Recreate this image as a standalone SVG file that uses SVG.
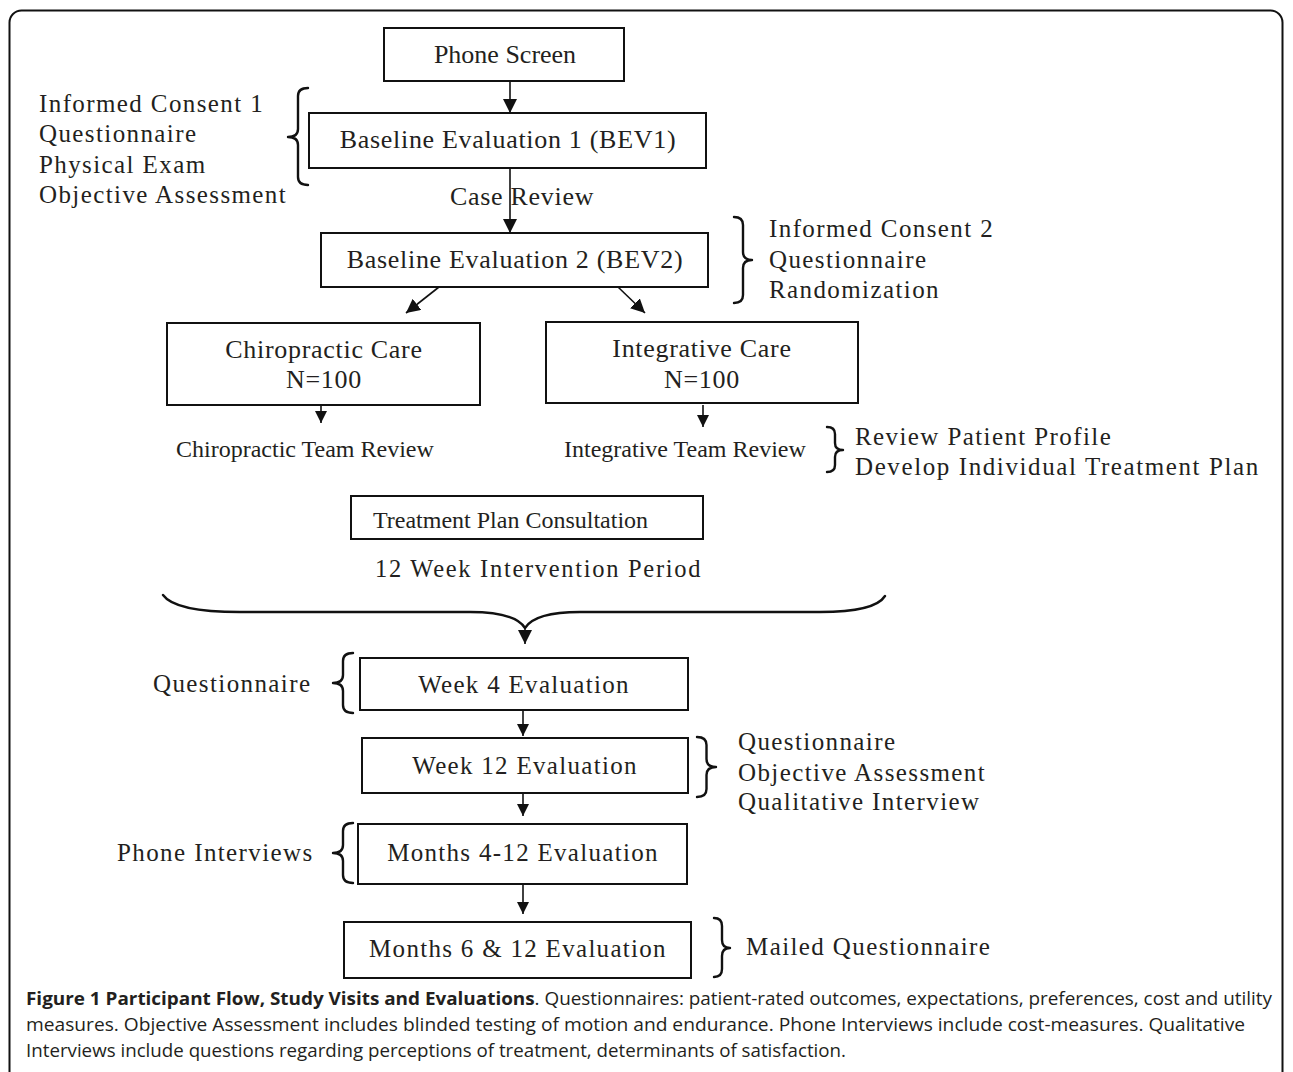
<svg xmlns="http://www.w3.org/2000/svg" width="1293" height="1072" viewBox="0 0 1293 1072">
<style>
  .box { fill: #fff; stroke: #111; stroke-width: 2; }
  .bt { font-family: "Liberation Serif", "Times New Roman", serif; font-size: 26px; fill: #231f20; text-anchor: middle; letter-spacing: 0.7px; }
  .lt { font-family: "Liberation Serif", "Times New Roman", serif; font-size: 25px; fill: #231f20; text-anchor: middle; letter-spacing: 1.3px; }
  .ann { font-family: "Liberation Serif", "Times New Roman", serif; font-size: 25px; fill: #231f20; letter-spacing: 1.4px; }
  .sm { font-family: "Liberation Serif", "Times New Roman", serif; font-size: 24px; fill: #231f20; }
  .conn { stroke: #111; stroke-width: 1.6; fill: none; }
  .brace { stroke: #111; stroke-width: 2.4; fill: none; stroke-linecap: round; stroke-linejoin: round; }
  .cap { font-family: "Open Sans", "Noto Sans", sans-serif; font-size: 17.5px; fill: #231f20; }
</style>
<defs>
  <marker id="ah" viewBox="0 0 14 14" refX="14" refY="7" markerWidth="14" markerHeight="14" markerUnits="userSpaceOnUse" orient="auto">
    <path d="M0,0 L14,7 L0,14 z" fill="#111"/>
  </marker>
  <marker id="ahs" viewBox="0 0 12 12" refX="12" refY="6" markerWidth="12" markerHeight="12" markerUnits="userSpaceOnUse" orient="auto">
    <path d="M0,0 L12,6 L0,12 z" fill="#111"/>
  </marker>
</defs>

<rect x="9.5" y="10.5" width="1273" height="1090" rx="12" fill="#fff" stroke="#111" stroke-width="2"/>

<g id="connectors">
  <line class="conn" x1="510" y1="81" x2="510" y2="113" marker-end="url(#ah)"/>
  <line class="conn" x1="510" y1="168" x2="510" y2="233" marker-end="url(#ah)"/>
  <line class="conn" x1="439" y1="287" x2="406" y2="313" marker-end="url(#ah)"/>
  <line class="conn" x1="618" y1="287" x2="645" y2="313" marker-end="url(#ah)"/>
  <line class="conn" x1="321" y1="405" x2="321" y2="423" marker-end="url(#ahs)"/>
  <line class="conn" x1="703" y1="405" x2="703" y2="427" marker-end="url(#ahs)"/>
  <path class="brace" d="M163 595 Q175 612 240 612 L470 612 Q515 612 525 628 Q535 612 580 612 L820 612 Q875 612 885 596"/>
  <line class="conn" x1="525" y1="626" x2="525" y2="644" marker-end="url(#ah)"/>
  <line class="conn" x1="523" y1="710" x2="523" y2="736" marker-end="url(#ahs)"/>
  <line class="conn" x1="523" y1="793" x2="523" y2="816" marker-end="url(#ahs)"/>
  <line class="conn" x1="523" y1="884" x2="523" y2="914" marker-end="url(#ahs)"/>
</g>

<g id="phone-screen">
  <rect class="box" x="384" y="28" width="240" height="53"/>
  <text class="bt" x="505" y="63" style="letter-spacing:0">Phone Screen</text>
</g>

<g id="bev1">
  <rect class="box" x="309" y="113" width="397" height="55"/>
  <text class="bt" x="508" y="148">Baseline Evaluation 1 (BEV1)</text>
</g>

<g id="bev1-notes">
  <path class="brace" d="M308 88 Q298 88 298 96 L298 129 Q298 137 288 137 Q298 137 298 145 L298 177 Q298 185 308 185"/>
  <text class="ann" x="39" y="112">Informed Consent 1</text>
  <text class="ann" x="39" y="142">Questionnaire</text>
  <text class="ann" x="39" y="173">Physical Exam</text>
  <text class="ann" x="39" y="203">Objective Assessment</text>
</g>

<g id="case-review">
  <text class="bt" x="450" y="205" style="text-anchor:start">Case Review</text>
</g>

<g id="bev2">
  <rect class="box" x="321" y="233" width="387" height="54"/>
  <text class="bt" x="515" y="268">Baseline Evaluation 2 (BEV2)</text>
</g>

<g id="bev2-notes">
  <path class="brace" d="M734 217 Q743 217 743 225 L743 252 Q743 260 752 260 Q743 260 743 268 L743 295 Q743 303 734 303"/>
  <text class="ann" x="769" y="237">Informed Consent 2</text>
  <text class="ann" x="769" y="268">Questionnaire</text>
  <text class="ann" x="769" y="298">Randomization</text>
</g>

<g id="chiropractic-care">
  <rect class="box" x="167" y="323" width="313" height="82"/>
  <text class="bt" x="324" y="358">Chiropractic Care</text>
  <text class="bt" x="324" y="388">N=100</text>
</g>

<g id="integrative-care">
  <rect class="box" x="546" y="322" width="312" height="81"/>
  <text class="bt" x="702" y="357">Integrative Care</text>
  <text class="bt" x="702" y="388">N=100</text>
</g>

<g id="chiropractic-team-review">
  <text class="sm" x="176" y="457">Chiropractic Team Review</text>
</g>

<g id="integrative-team-review">
  <text class="sm" x="564" y="457">Integrative Team Review</text>
</g>

<g id="team-review-notes">
  <path class="brace" d="M827 427 Q835 427 835 434 L835 443 Q835 450 843 450 Q835 450 835 457 L835 465 Q835 472 827 472"/>
  <text class="ann" x="855" y="445">Review Patient Profile</text>
  <text class="ann" x="855" y="475" style="letter-spacing:1.6px">Develop Individual Treatment Plan</text>
</g>

<g id="treatment-plan">
  <rect class="box" x="351" y="496" width="352" height="43"/>
  <text class="sm" x="373" y="528">Treatment Plan Consultation</text>
</g>

<g id="intervention-period">
  <text class="ann" x="375" y="577" style="font-size:24.5px;letter-spacing:1.7px">12 Week Intervention Period</text>
</g>

<g id="week4">
  <rect class="box" x="360" y="658" width="328" height="52"/>
  <text class="lt" x="524" y="693">Week 4 Evaluation</text>
</g>

<g id="week4-notes">
  <path class="brace" d="M353 653 Q343 653 343 661 L343 675 Q343 683 333 683 Q343 683 343 691 L343 705 Q343 713 353 713"/>
  <text class="ann" x="153" y="692">Questionnaire</text>
</g>

<g id="week12">
  <rect class="box" x="362" y="738" width="326" height="55"/>
  <text class="lt" x="525" y="774">Week 12 Evaluation</text>
</g>

<g id="week12-notes">
  <path class="brace" d="M697 737 Q706.5 737 706.5 745 L706.5 759 Q706.5 767 716 767 Q706.5 767 706.5 775 L706.5 789 Q706.5 797 697 797"/>
  <text class="ann" x="738" y="750">Questionnaire</text>
  <text class="ann" x="738" y="781">Objective Assessment</text>
  <text class="ann" x="738" y="810">Qualitative Interview</text>
</g>

<g id="months4-12">
  <rect class="box" x="358" y="824" width="329" height="60"/>
  <text class="lt" x="523" y="861">Months 4-12 Evaluation</text>
</g>

<g id="months4-12-notes">
  <path class="brace" d="M353 823 Q343 823 343 831 L343 845 Q343 853 333 853 Q343 853 343 861 L343 875 Q343 883 353 883"/>
  <text class="ann" x="117" y="861">Phone Interviews</text>
</g>

<g id="months6-12">
  <rect class="box" x="344" y="922" width="347" height="56"/>
  <text class="lt" x="518" y="957">Months 6 &amp; 12 Evaluation</text>
</g>

<g id="months6-12-notes">
  <path class="brace" d="M714 918 Q722 918 722 926 L722 940 Q722 948 730 948 Q722 948 722 956 L722 969 Q722 977 714 977"/>
  <text class="ann" x="746" y="955">Mailed Questionnaire</text>
</g>

<g id="caption">
  <text class="cap" x="26" y="1005" textLength="1246" lengthAdjust="spacingAndGlyphs"><tspan font-weight="bold">Figure 1 Participant Flow, Study Visits and Evaluations</tspan>. Questionnaires: patient-rated outcomes, expectations, preferences, cost and utility</text>
  <text class="cap" x="26" y="1031" textLength="1219" lengthAdjust="spacingAndGlyphs">measures. Objective Assessment includes blinded testing of motion and endurance. Phone Interviews include cost-measures. Qualitative</text>
  <text class="cap" x="26" y="1057" textLength="820" lengthAdjust="spacingAndGlyphs">Interviews include questions regarding perceptions of treatment, determinants of satisfaction.</text>
</g>
</svg>
